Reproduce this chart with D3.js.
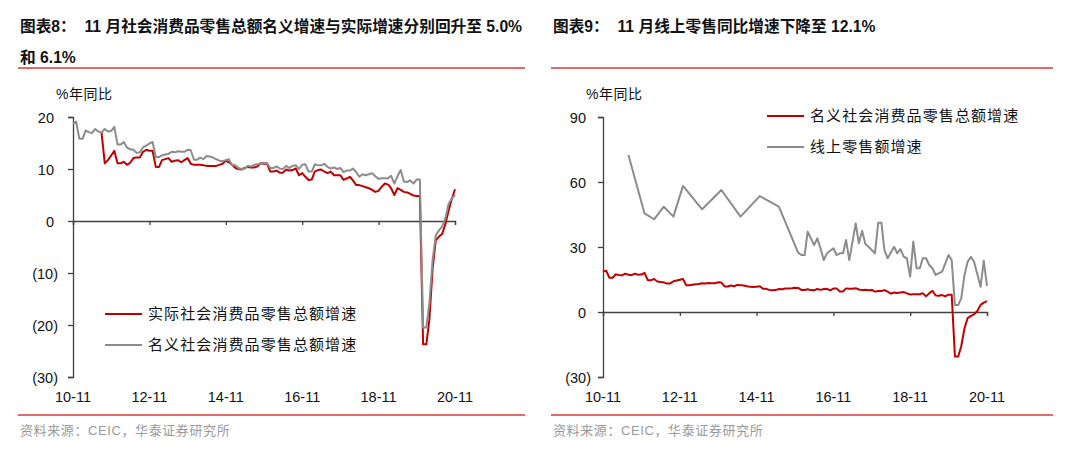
<!DOCTYPE html>
<html><head><meta charset="utf-8">
<script src="https://cdn.jsdelivr.net/npm/d3@7/dist/d3.min.js"></script>
<style>
body{margin:0;background:#fff;}
svg{display:block;}
text{white-space:pre;}
</style>
</head><body>
<svg id="c" width="1080" height="449"></svg>
<script>
// ---------------- DATA ----------------
const nominalStart = "2010-11";
// 名义社会消费品零售总额增速 (monthly, Nov 2010 – Nov 2020)
const nominal = [
  18.7, 19.1,
  15.8, 15.8, 17.4, 17.1, 16.9, 17.7, 17.2, 17.0, 17.7, 17.2, 17.3, 18.1,
  14.7, 14.7, 15.2, 14.1, 13.8, 13.7, 13.1, 13.2, 14.2, 14.5, 14.9, 15.2,
  12.3, 12.3, 12.6, 12.8, 12.9, 13.3, 13.2, 13.4, 13.3, 13.3, 13.7, 13.6,
  11.8, 11.8, 12.2, 11.9, 12.5, 12.4, 12.2, 11.9, 11.6, 11.5, 11.7, 11.9,
  10.7, 10.7, 10.2, 10.0, 10.1, 10.6, 10.5, 10.8, 10.9, 11.0, 11.2, 11.1,
  10.2, 10.2, 10.5, 10.1, 10.0, 10.6, 10.2, 10.6, 10.7, 10.0, 10.8, 10.9,
   9.5,  9.5, 10.9, 10.7, 10.7, 11.0, 10.4, 10.1, 10.3, 10.0, 10.2,  9.4,
   9.7,  9.7, 10.1,  9.4,  8.5,  9.0,  8.8,  9.0,  9.2,  8.6,  8.1,  8.2,
   8.2,  8.2,  8.7,  7.2,  8.6,  9.8,  7.6,  7.5,  7.8,  7.2,  8.0,  8.0,
 -20.5,-20.5,-15.8, -7.5, -2.8, -1.8, -1.1,  0.5,  3.3,  4.3,  5.0
];
const realStart = "2011-08";
// 实际社会消费品零售总额增速 (monthly, Aug 2011 – Nov 2020)
const real = [
  17.0, 11.1, 11.7, 12.6, 13.5,
  11.1, 11.1, 11.4, 10.8, 11.2, 12.1, 12.2, 12.2, 13.3, 13.7, 13.5, 13.5,
  10.4, 10.4, 11.7, 11.9, 12.1, 11.4, 11.6, 11.7, 11.3, 11.7, 12.1, 11.0,
  10.8, 10.8, 10.8, 10.7, 10.6, 10.6, 10.6, 10.6, 10.8, 11.0, 11.6, 11.3,
  10.8, 10.2, 10.0,  9.9, 10.2, 10.4, 10.3, 10.3, 10.5, 11.1, 11.0, 11.0,
   9.5,  9.5,  9.7,  9.3,  9.3,  9.9,  9.7,  9.8, 10.1,  8.8,  9.2,  8.5,
   7.9,  8.0,  9.5,  9.8,  9.9,  9.5,  9.2,  9.5,  8.8,  8.8,  8.8,  7.9,
   8.2,  8.5,  7.8,  6.9,  6.9,  6.7,  6.5,  6.3,  6.0,  5.6,  5.8,  6.6,
   7.2,  7.0,  6.3,  5.0,  6.3,  6.0,  5.6,  5.5,  5.2,  4.9,  4.8,  4.8,
 -23.7,-23.7,-19.0, -9.1, -3.7, -3.0, -2.5, -0.6,  2.0,  4.2,  6.1
];
// 线上零售额增速
const onlineMonths = [
  "2011-07","2011-12","2012-03","2012-06","2012-09","2012-12","2013-06","2013-12",
  "2014-06","2014-12","2015-06","2015-12","2016-01","2016-02","2016-03","2016-04",
  "2016-05","2016-06","2016-07","2016-08","2016-09","2016-11","2016-12","2017-01",
  "2017-02","2017-03","2017-04","2017-06","2017-07","2017-08","2017-09","2017-10",
  "2017-12","2018-01","2018-02","2018-03","2018-04","2018-06","2018-07","2018-08",
  "2018-09","2018-10","2018-11","2018-12","2019-01","2019-02","2019-03","2019-04",
  "2019-05","2019-06","2019-07","2019-09","2019-11","2019-12","2020-01","2020-02",
  "2020-03","2020-04","2020-05","2020-06","2020-07","2020-09","2020-10","2020-11"
];
const onlineValues = [
  72.5, 45.5, 42.8, 48.6, 44.0, 58.2, 47.4, 56.3,
  44.0, 53.5, 48.6, 27.4, 26.3, 26.3, 37.1, 34.0,
  30.9, 34.0, 29.4, 24.0, 27.1, 29.4, 26.3, 27.1,
  27.1, 33.2, 24.0, 40.9, 31.7, 37.5, 31.4, 30.1,
  27.1, 41.2, 41.2, 28.6, 24.8, 30.1, 27.1, 29.0,
  25.5, 24.8, 16.3, 32.5, 20.2, 20.2, 24.8, 24.8,
  21.7, 20.2, 17.1, 18.6, 26.3, 24.0,  3.2,  3.2,
   6.3, 17.1, 23.2, 25.5, 23.2, 11.6, 23.6, 12.1
];
const xTickLabels = ["10-11","12-11","14-11","16-11","18-11","20-11"];
const leftYTicks = [20, 10, 0, -10, -20, -30];
const rightYTicks = [90, 60, 30, 0, -30];
const leftLegend = ["实际社会消费品零售总额增速", "名义社会消费品零售总额增速"];
const rightLegend = ["名义社会消费品零售总额增速", "线上零售额增速"];
const leftTitle = ["图表8：  11 月社会消费品零售总额名义增速与实际增速分别回升至 5.0%", "和 6.1%"];
const rightTitle = ["图表9：  11 月线上零售同比增速下降至 12.1%"];
const unitLabel = "%年同比";
const sourceText = "资料来源：CEIC，华泰证券研究所";

// ---------------- DRAW ----------------
const RED = "#c00000", GRAY = "#8c8c8c", AXIS = "#404040", RULE = "#d9393a";
const FONT = "'Liberation Sans', Arial, 'Noto Sans CJK SC', sans-serif";
const parse = d3.timeParse("%Y-%m");
const svg = d3.select("#c");

function series(start, vals) {
  const s = parse(start);
  return vals.map((v, i) => ({ d: d3.timeMonth.offset(s, i), v }));
}
const nominalData = series(nominalStart, nominal);
const realData = series(realStart, real);
const onlineData = onlineMonths.map((m, i) => ({ d: parse(m), v: onlineValues[i] }));
const tickDates = xTickLabels.map(t => parse("20" + t.slice(0, 2) + "-" + t.slice(3)));

function panel(opt) {
  const g = svg.append("g");
  opt.title.forEach((t, i) => {
    g.append("text").attr("x", opt.tx).attr("y", 32 + i * 31)
      .attr("font-family", FONT).attr("font-weight", "bold").attr("font-size", 15.7)
      .attr("fill", "#111").text(t);
  });
  g.append("line").attr("x1", opt.tx - 2).attr("x2", opt.ruleEnd).attr("y1", 68).attr("y2", 68)
    .attr("stroke", RULE).attr("stroke-width", 1.5);
  g.append("line").attr("x1", opt.tx - 2).attr("x2", opt.ruleEnd).attr("y1", 415).attr("y2", 415)
    .attr("stroke", RULE).attr("stroke-width", 1.5);
  g.append("text").attr("x", opt.tx).attr("y", 435)
    .attr("font-family", FONT).attr("font-size", 13).attr("fill", "#9a9a9a")
    .attr("letter-spacing", 0.6).text(sourceText);

  const x = d3.scaleTime().domain([tickDates[0], tickDates[tickDates.length - 1]]).range([opt.x0, opt.x1]);
  const y = d3.scaleLinear().domain(opt.ydom).range([377, 117]);

  g.append("text").attr("x", opt.x0 - 17).attr("y", 99)
    .attr("font-family", FONT).attr("font-size", 14).attr("letter-spacing", 0.5)
    .attr("fill", "#111").text(unitLabel);

  const ya = g.append("g").attr("transform", `translate(${opt.x0},0)`)
    .call(d3.axisLeft(y).tickValues(opt.yticks).tickSize(5).tickFormat(d => d < 0 ? `(${-d})` : `${d}`));
  ya.select(".domain").attr("stroke", AXIS).attr("stroke-width", 1.3);
  ya.selectAll(".tick line").attr("stroke", AXIS).attr("stroke-width", 1.3);
  ya.selectAll(".tick text").attr("font-family", FONT).attr("font-size", 14.5).attr("fill", "#111")
    .attr("x", d => d < 0 ? -opt.parenGap : -opt.digitGap).attr("dy", "0.35em");

  const xa = g.append("g").attr("transform", `translate(0,${y(0)})`)
    .call(d3.axisBottom(x).tickValues(tickDates).tickSize(4).tickFormat(""));
  xa.select(".domain").attr("stroke", AXIS).attr("stroke-width", 1.3);
  xa.selectAll(".tick line").attr("stroke", AXIS).attr("stroke-width", 1.3);
  g.selectAll(".xl").data(tickDates).enter().append("text")
    .attr("x", d => x(d)).attr("y", 402).attr("text-anchor", "middle")
    .attr("font-family", FONT).attr("font-size", 14.5).attr("fill", "#111")
    .text((d, i) => xTickLabels[i]);

  const line = d3.line().x(d => x(d.d)).y(d => y(d.v));
  opt.lines.forEach(l => {
    g.append("path").datum(l.data).attr("d", line).attr("fill", "none")
      .attr("stroke", l.color).attr("stroke-width", 2).attr("stroke-linejoin", "round");
  });

  opt.legend.forEach((t, i) => {
    const ly = opt.ly + i * opt.lstep;
    g.append("line").attr("x1", opt.lx).attr("x2", opt.lx + 37).attr("y1", ly).attr("y2", ly)
      .attr("stroke", opt.lines[i].color).attr("stroke-width", 2.2);
    g.append("text").attr("x", opt.lx + 43).attr("y", ly).attr("dy", "0.36em")
      .attr("font-family", FONT).attr("font-size", 15).attr("letter-spacing", 1.1)
      .attr("fill", "#111").text(t);
  });
}

panel({
  tx: 20, ruleEnd: 525, title: leftTitle,
  x0: 73, x1: 455, ydom: [-30, 20], yticks: leftYTicks, digitGap: 19, parenGap: 15,
  lines: [{ data: realData, color: RED }, { data: nominalData, color: GRAY }],
  legend: leftLegend, lx: 105, ly: 314, lstep: 31
});
panel({
  tx: 553, ruleEnd: 1053, title: rightTitle,
  x0: 603, x1: 987, ydom: [-30, 90], yticks: rightYTicks, digitGap: 17, parenGap: 12,
  lines: [{ data: nominalData, color: RED }, { data: onlineData, color: GRAY }],
  legend: rightLegend, lx: 767, ly: 116, lstep: 31
});
</script>
</body></html>
